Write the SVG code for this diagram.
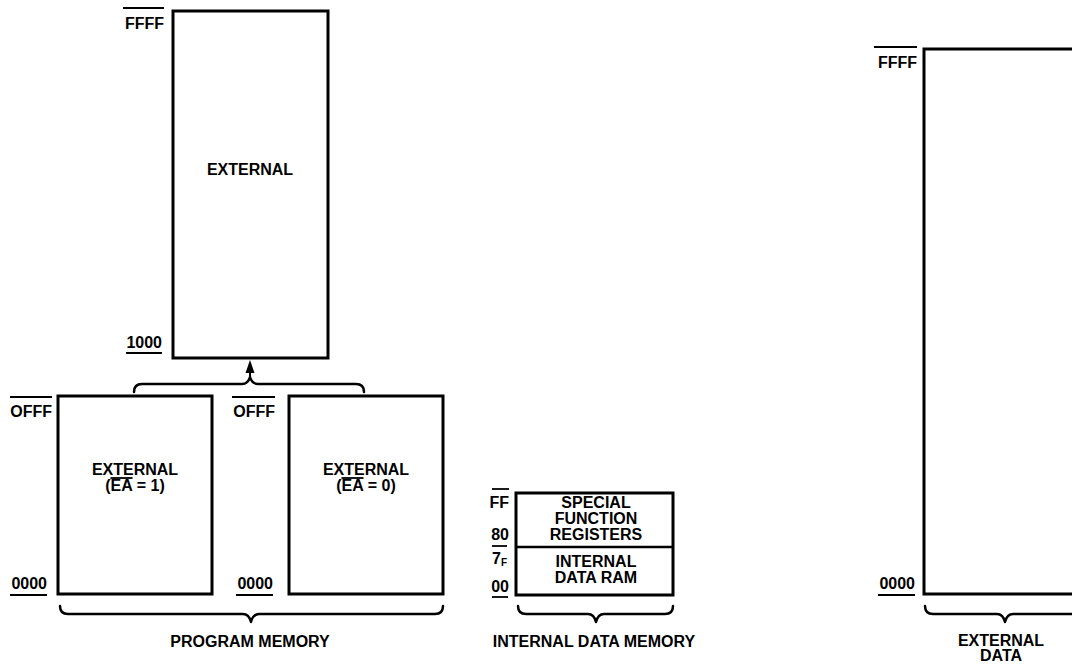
<svg xmlns="http://www.w3.org/2000/svg" width="1072" height="666" viewBox="0 0 1072 666">
<style>
.box{fill:#fff;stroke:#000;stroke-width:3}
.br{fill:none;stroke:#000;stroke-width:2.5;stroke-linejoin:round;stroke-linecap:round}
.ln{stroke:#000;stroke-width:1.8}
text{font-family:"Liberation Sans",Arial,sans-serif;font-weight:bold;font-size:16px;fill:#000}
.c{text-anchor:middle}
.e{text-anchor:end}
</style>
<rect width="1072" height="666" fill="#fff"/>
<g id="prog-external-high">
<rect class="box" x="173" y="11" width="155" height="347"/>
<text class="c" x="250" y="175">EXTERNAL</text>
<text class="e" x="164" y="29">FFFF</text>
<line class="ln" x1="123" y1="8" x2="164" y2="8"/>
<text class="e" x="162" y="348">1000</text>
<line class="ln" x1="126" y1="353" x2="162" y2="353"/>
</g>
<g id="prog-ea1">
<rect class="box" x="58" y="396" width="154" height="198"/>
<text class="c" x="135" y="475">EXTERNAL</text>
<text class="c" x="135" y="491">(EA = 1)</text>
<line class="ln" x1="110.5" y1="478" x2="132.5" y2="478"/>
<text class="e" x="52" y="417">OFFF</text>
<line class="ln" x1="10" y1="397" x2="52" y2="397"/>
<text class="e" x="47" y="589">0000</text>
<line class="ln" x1="10" y1="595" x2="47" y2="595"/>
</g>
<g id="prog-ea0">
<rect class="box" x="289" y="396" width="154" height="198"/>
<text class="c" x="366" y="475">EXTERNAL</text>
<text class="c" x="366" y="491">(EA = 0)</text>
<line class="ln" x1="341.5" y1="478" x2="363.5" y2="478"/>
<text class="e" x="275" y="417">OFFF</text>
<line class="ln" x1="232" y1="397" x2="275" y2="397"/>
<text class="e" x="273" y="589">0000</text>
<line class="ln" x1="236" y1="595" x2="273" y2="595"/>
</g>
<g id="internal-data">
<rect class="box" x="516" y="493" width="157" height="102"/>
<line class="ln" x1="516" y1="547" x2="673" y2="547" style="stroke-width:2.5"/>
<text class="c" x="596" y="508">SPECIAL</text>
<text class="c" x="596" y="524">FUNCTION</text>
<text class="c" x="596" y="540">REGISTERS</text>
<text class="c" x="596" y="567">INTERNAL</text>
<text class="c" x="596" y="583">DATA RAM</text>
<text class="e" x="509" y="508">FF</text>
<line class="ln" x1="492" y1="489" x2="509" y2="489"/>
<text class="e" x="509" y="540">80</text>
<line class="ln" x1="492" y1="546" x2="507" y2="546"/>
<text x="492" y="564">7<tspan font-size="10" dy="2">F</tspan></text>
<text class="e" x="509" y="592">00</text>
<line class="ln" x1="492" y1="597" x2="508" y2="597"/>
</g>
<g id="external-data">
<rect class="box" x="924" y="49" width="160" height="545"/>
<text class="e" x="917" y="68">FFFF</text>
<line class="ln" x1="874" y1="47" x2="917" y2="47"/>
<text class="e" x="915" y="589">0000</text>
<line class="ln" x1="878" y1="595" x2="915" y2="595"/>
</g>
<g id="connectors">
<path class="br" d="M134,392 Q134,384 142,384 L242,384 Q248,384 250,377 Q252,384 258,384 L356,384 Q364,384 364,392"/>
<line class="ln" x1="250" y1="378" x2="250" y2="368" style="stroke-width:2"/>
<polygon points="250,360 245.5,373 254.5,373" fill="#000"/>
<path class="br" d="M60,606 Q60,614 68,614 L243,614 Q249,614 251,622 Q253,614 259,614 L435,614 Q443,614 443,606"/>
<path class="br" d="M518,606 Q518,614 526,614 L588,614 Q594,614 596,622 Q598,614 604,614 L665,614 Q673,614 673,606"/>
<path class="br" d="M925,606 Q925,614 933,614 L997,614 Q1003,614 1005,622 Q1007,614 1013,614 L1077,614 Q1085,614 1085,606"/>
</g>
<g id="captions">
<text class="c" x="250" y="647">PROGRAM MEMORY</text>
<text class="c" x="594" y="647">INTERNAL DATA MEMORY</text>
<text class="c" x="1001" y="646">EXTERNAL</text>
<text class="c" x="1001" y="661">DATA</text>
</g>
</svg>
